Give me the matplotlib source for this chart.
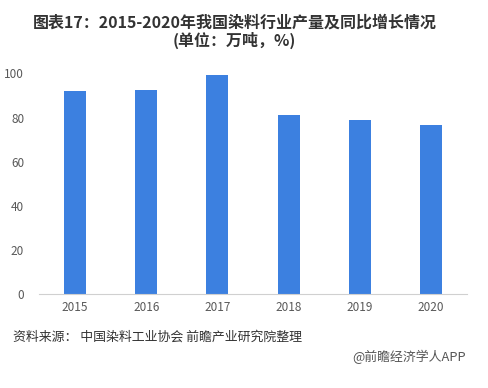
import matplotlib
matplotlib.use("Agg")
import matplotlib.pyplot as plt

plt.rcParams['font.family'] = ['Noto Sans CJK SC', 'DejaVu Sans']

years = ['2015', '2016', '2017', '2018', '2019', '2020']
output = [92.0, 92.4, 99.2, 81.1, 78.9, 76.6]
yticks = [0, 20, 40, 60, 80, 100]

fig = plt.figure(figsize=(4.89, 3.88), dpi=100)
ax = fig.add_axes([0.0806, 0.2415, 0.8734, 0.5691])
x = range(len(years))
ax.bar(x, output, width=0.31, color='#3c80e0', zorder=2)
ax.set_xlim(-0.5, len(years) - 0.5)
ax.set_ylim(0, 100)
ax.set_yticks(yticks)
ax.set_xticks(list(x))
ax.set_xticklabels(years)
for s in ['top', 'right', 'left']:
    ax.spines[s].set_visible(False)
ax.spines['bottom'].set_color('#d0d0d0')
ax.tick_params(axis='both', length=0, labelsize=8.5, colors='#595959')
ax.tick_params(axis='y', pad=11)
ax.tick_params(axis='x', pad=5)

fig.text(0.48, 0.943, '图表17：2015-2020年我国染料行业产量及同比增长情况',
         ha='center', va='center', fontsize=11.5, fontweight='bold', color='#333333')
fig.text(0.48, 0.897, '(单位：万吨，%)',
         ha='center', va='center', fontsize=11.5, fontweight='bold', color='#333333')
fig.text(0.027, 0.131, '资料来源： 中国染料工业协会 前瞻产业研究院整理',
         ha='left', va='center', fontsize=9.3, color='#333333')
fig.text(0.953, 0.08, '@前瞻经济学人APP',
         ha='right', va='center', fontsize=9.3, color='#555555')

fig.savefig('out.png', dpi=100)
